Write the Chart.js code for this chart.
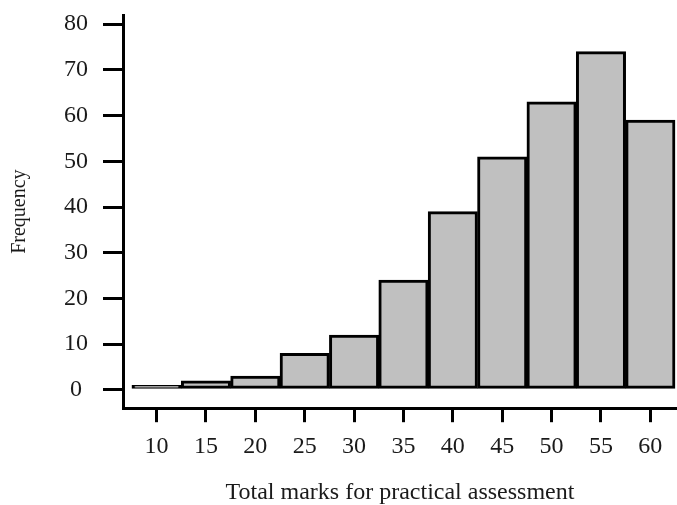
<!DOCTYPE html>
<html>
<head>
<meta charset="utf-8">
<script src="https://cdn.jsdelivr.net/npm/chart.js@4.4.0/dist/chart.umd.min.js"></script>
<style>
  body { margin: 0; background: #fff; }
  #chart-container { width: 677px; height: 505px; }
</style>
</head>
<body>
<div id="chart-container"><canvas id="myChart" width="677" height="505"></canvas></div>
<script>
// bin centres and counts
const marks = [10, 15, 20, 25, 30, 35, 40, 45, 50, 55, 60];
const frequency = [1, 2, 3, 8, 12, 24, 39, 51, 63, 74, 59];
const xTicks = [10, 15, 20, 25, 30, 35, 40, 45, 50, 55, 60];
const yTicks = [0, 10, 20, 30, 40, 50, 60, 70, 80];

const serif = "'Liberation Serif', 'Times New Roman', serif";
const ink = "#1a1a1a";

const ctx = document.getElementById("myChart").getContext("2d");

const chart = new Chart(ctx, {
  type: "bar",
  data: {
    datasets: [
      {
        data: marks.map((m, i) => ({ x: m, y: frequency[i] })),
        backgroundColor: "#c0c0c0",
        borderColor: "#000",
        borderWidth: 3,
        borderSkipped: false,
        barPercentage: 1,
        categoryPercentage: 1,
      },
    ],
  },
  options: {
    responsive: false,
    animation: false,
    layout: {
      padding: { top: 0, left: 4, right: 0, bottom: 0 },
    },
    plugins: {
      legend: { display: false },
      tooltip: { enabled: false },
    },
    scales: {
      x: {
        type: "linear",
        min: 6.6,
        max: 62.7,
        offset: false,
        afterBuildTicks: (axis) => {
          axis.ticks = xTicks.map((v) => ({ value: v }));
        },
        border: { display: true, color: "#000", width: 3 },
        grid: {
          offset: false,
          drawOnChartArea: false,
          color: "#000",
          lineWidth: 3,
          tickLength: 14,
        },
        ticks: {
          color: ink,
          font: { family: serif, size: 24 },
          padding: 10,
          maxRotation: 0,
          autoSkip: false,
        },
        title: {
          display: true,
          text: "Total marks for practical assessment",
          color: ink,
          font: { family: serif, size: 24, lineHeight: 1 },
          padding: { top: 10, bottom: 0 },
        },
      },
      y: {
        min: -4,
        max: 82,
        afterBuildTicks: (axis) => {
          axis.ticks = yTicks.map((v) => ({ value: v }));
        },
        border: { display: true, color: "#000", width: 3 },
        grid: {
          drawOnChartArea: false,
          color: "#000",
          lineWidth: 3,
          tickLength: 20,
        },
        ticks: {
          color: ink,
          // lineHeight 0 keeps the top label from pushing the plot down
          font: { family: serif, size: 24, lineHeight: 0 },
          padding: 15,
          crossAlign: "center",
        },
        title: {
          display: true,
          text: "Frequency",
          color: ink,
          font: { family: serif, size: 20 },
          padding: { top: 4, bottom: 17 },
        },
      },
    },
  },
});
</script>
</body>
</html>
